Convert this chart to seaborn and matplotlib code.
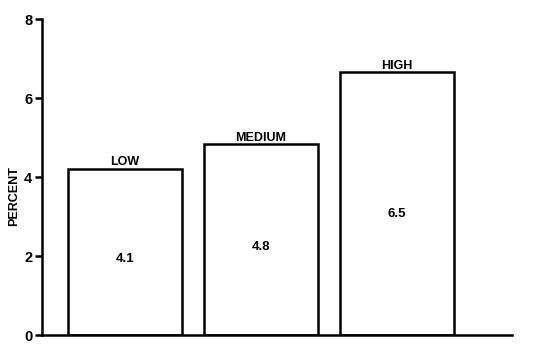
import matplotlib
matplotlib.use("Agg")
import matplotlib.pyplot as plt
import pandas as pd
import seaborn as sns

# data
levels = ["LOW", "MEDIUM", "HIGH"]
bar_heights = [4.2, 4.83, 6.65]
value_labels = ["4.1", "4.8", "6.5"]
y_ticks = [0, 2, 4, 6, 8]


def plot():
    sns.set_style("ticks", {"text.color": "black", "axes.labelcolor": "black",
                            "ytick.color": "black", "axes.edgecolor": "black"})
    plt.rcParams['font.family'] = ['Liberation Sans', 'DejaVu Sans']

    df = pd.DataFrame({"Level": levels, "Percent": bar_heights})

    fig = plt.figure(figsize=(5.34, 3.48), dpi=100)
    ax = fig.add_axes([0.079, 0.037, 0.88, 0.908])

    sns.barplot(data=df, x="Level", y="Percent", order=levels,
                color="white", edgecolor="black", linewidth=1.8,
                width=0.84, ax=ax)

    for i, (name, h, lab) in enumerate(zip(levels, bar_heights, value_labels)):
        ax.text(i, h + 0.02, name, ha="center", va="bottom",
                fontsize=9, fontweight="bold", color="black")
        ax.text(i, h * 0.46, lab, ha="center", va="center",
                fontsize=9.5, fontweight="bold", color="black")

    ax.set_xlim(-0.61, 2.85)
    ax.set_ylim(0, 8)
    ax.set_yticks(y_ticks)
    ax.set_xticks([])
    ax.set_xlabel("")
    ax.set_ylabel("PERCENT", fontsize=9, fontweight="bold", color="black")
    ax.yaxis.set_label_coords(-0.047, 0.44)
    ax.tick_params(axis="y", length=5, width=1.8, labelsize=10.5, pad=2,
                   colors="black")
    for lbl in ax.get_yticklabels():
        lbl.set_fontweight("bold")

    sns.despine(ax=ax)
    ax.spines["left"].set_linewidth(1.8)
    ax.spines["bottom"].set_linewidth(1.8)

    fig.savefig("out.png", dpi=100)


if __name__ == '__main__':
    plot()
